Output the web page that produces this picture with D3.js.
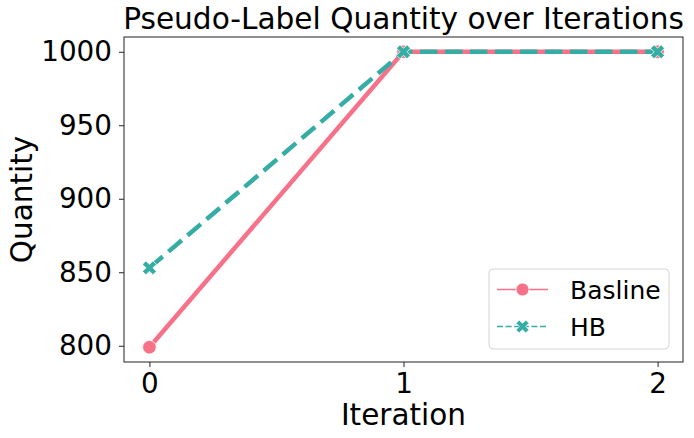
<!DOCTYPE html>
<html><head><meta charset="utf-8">
<script src="https://cdn.jsdelivr.net/npm/d3@7"></script>
<style>body{margin:0;background:#fff}svg{display:block}text{font-family:"DejaVu Sans",sans-serif}</style>
</head><body>
<svg id="c" width="694" height="438"></svg>
<script>
const iterations = [0, 1, 2];
const baseline = [799, 1000, 1000];
const hb = [853, 1000, 1000];
const yTicks = [800, 850, 900, 950, 1000];
const seriesNames = ["Basline", "HB"];
const colors = ["#f77189", "#36ada4"];

const svg = d3.select("#c");
const m = {l:124, r:683, t:37, b:362};
const x = d3.scaleLinear().domain([-0.1, 2.1]).range([m.l, m.r]);
const y = d3.scaleLinear().domain([788.95, 1010.05]).range([m.b, m.t]);

const xa = svg.append("g").attr("transform", `translate(0,${m.b})`)
  .call(d3.axisBottom(x).tickValues(iterations).tickFormat(d3.format("d")).tickSize(5).tickPadding(6));
const ya = svg.append("g").attr("transform", `translate(${m.l},0)`)
  .call(d3.axisLeft(y).tickValues(yTicks).tickFormat(d3.format("d")).tickSize(5).tickPadding(7));
[xa, ya].forEach(a => {
  a.selectAll("text").style("font-size", "27.8px").attr("fill", "#000");
  a.selectAll("line").attr("stroke", "#222").attr("stroke-width", 1);
  a.select(".domain").remove();
});
svg.append("rect").attr("x", m.l).attr("y", m.t).attr("width", m.r - m.l).attr("height", m.b - m.t)
  .attr("fill", "none").attr("stroke", "#222").attr("stroke-width", 1);

const line = d3.line().x((d, i) => x(iterations[i])).y(d => y(d));
svg.append("path").datum(baseline).attr("d", line).attr("fill", "none")
  .attr("stroke", colors[0]).attr("stroke-width", 4.5);
svg.selectAll(".pt0").data(baseline).join("circle").attr("cx", (d, i) => x(iterations[i])).attr("cy", d => y(d))
  .attr("r", 6.8).attr("fill", colors[0]).attr("stroke", "#fff").attr("stroke-width", 0.8);
svg.append("path").datum(hb).attr("d", line).attr("fill", "none")
  .attr("stroke", colors[1]).attr("stroke-width", 4.5).attr("stroke-dasharray", "17.5 7.5");

const xShape = [[0,-0.25],[0.25,-0.5],[0.5,-0.25],[0.25,0],[0.5,0.25],[0.25,0.5],[0,0.25],[-0.25,0.5],[-0.5,0.25],[-0.25,0],[-0.5,-0.25],[-0.25,-0.5]];
function xMarker(g, cx, cy, s, col) {
  g.append("path").attr("transform", `translate(${cx},${cy})`)
    .attr("d", d3.line()(xShape.map(p => [p[0] * s, p[1] * s])) + "Z")
    .attr("fill", col).attr("stroke", "#fff").attr("stroke-width", 0.8);
}
hb.forEach((d, i) => xMarker(svg, x(iterations[i]), y(d), 14, colors[1]));

svg.append("text").attr("x", (m.l + m.r) / 2).attr("y", 28.5).attr("text-anchor", "middle")
  .style("font-size", "29.6px").text("Pseudo-Label Quantity over Iterations");
svg.append("text").attr("x", (m.l + m.r) / 2).attr("y", 425).attr("text-anchor", "middle")
  .style("font-size", "29.5px").text("Iteration");
svg.append("text").attr("transform", `translate(32,${(m.t + m.b) / 2}) rotate(-90)`).attr("text-anchor", "middle")
  .style("font-size", "29.5px").text("Quantity");

// legend
const lg = svg.append("g");
lg.append("rect").attr("x", 489).attr("y", 269).attr("width", 180).attr("height", 80).attr("rx", 4)
  .attr("fill", "#fff").attr("fill-opacity", 0.8).attr("stroke", "#d5d5d5");
const rows = [289.5, 326.5];
seriesNames.forEach((n, i) => {
  const yy = rows[i];
  lg.append("line").attr("x1", 497).attr("x2", 548).attr("y1", yy).attr("y2", yy)
    .attr("stroke", colors[i]).attr("stroke-width", 1.6).attr("stroke-dasharray", i ? "6 2.6" : null);
  if (i === 0) lg.append("circle").attr("cx", 522.5).attr("cy", yy).attr("r", 6.5).attr("fill", colors[0]).attr("stroke", "#fff").attr("stroke-width", 0.8);
  else xMarker(lg, 522.5, yy, 13, colors[1]);
  lg.append("text").attr("x", 570).attr("y", yy + 9).style("font-size", "25px").text(n);
});
</script>
</body></html>
